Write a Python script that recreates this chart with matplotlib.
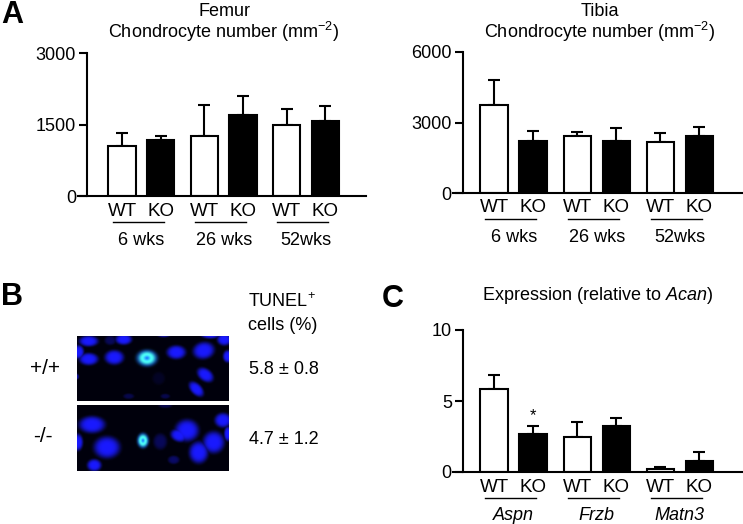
import numpy as np
import matplotlib
matplotlib.use("Agg")
import matplotlib.pyplot as plt
from matplotlib.transforms import blended_transform_factory, offset_copy

plt.rcParams['font.family'] = ['Liberation Sans', 'DejaVu Sans']
plt.rcParams['mathtext.fontset'] = 'custom'
plt.rcParams['mathtext.rm'] = 'Liberation Sans'
plt.rcParams['mathtext.it'] = 'Liberation Sans:italic'

# ---- data ----
genotypes = ['WT', 'KO']
ages = ['6 wks', '26 wks', '52wks']
genes = ['Aspn', 'Frzb', 'Matn3']

femur_wt = [1050, 1260, 1500]
femur_wt_err = [280, 640, 335]
femur_ko = [1170, 1690, 1580]
femur_ko_err = [95, 415, 300]

tibia_wt = [3740, 2410, 2180]
tibia_wt_err = [1070, 200, 355]
tibia_ko = [2230, 2230, 2440]
tibia_ko_err = [425, 520, 355]

expr_wt = [5.88, 2.45, 0.19]
expr_wt_err = [0.97, 1.08, 0.16]
expr_ko = [2.70, 3.22, 0.75]
expr_ko_err = [0.57, 0.57, 0.64]

tunel_rows = ['+/+', '-/-']
tunel_values = ['5.8 \u00b1 0.8', '4.7 \u00b1 1.2']

# nuclei in the micrographs: x, y, half-width, half-height (image px), angle, brightness, tunel+
nuclei_wt = [
    (11.7, 6.0, 6.7, 3.7, 0, 1.0, False), (1.7, 16.7, 3.7, 4.7, 0, 1.0, False),
    (11.7, 23.7, 6.7, 4.2, 0, 1.0, False), (33.3, 5.3, 4.2, 3.3, 0, 0.35, False),
    (46.7, 4.3, 5.8, 3.7, 0, 1.0, False), (37.3, 22.0, 6.7, 5.0, 0, 1.0, False),
    (70.0, 22.7, 7.5, 5.8, 0, 1.0, True), (86.7, -1.3, 5.0, 2.5, 0, 0.8, False),
    (99.3, 17.0, 6.7, 4.7, 0, 1.0, False), (126.7, 15.3, 7.5, 5.8, -10, 1.0, False),
    (133.3, -0.7, 6.7, 3.0, 0, 1.0, False), (147.3, 4.3, 5.0, 4.2, 0, 1.0, False),
    (150.7, 21.0, 3.3, 4.2, 0, 1.0, False), (128.3, 39.3, 6.3, 4.2, 35, 1.0, False),
    (119.3, 53.3, 6.3, 3.7, 45, 1.0, False), (0.0, 41.0, 1.5, 2.0, 0, 0.6, False),
    (81.7, 42.7, 5.0, 5.0, 0, 0.15, False), (51.7, 60.3, 4.0, 2.0, 0, 0.3, False),
    (88.3, 60.3, 3.5, 1.8, 0, 0.3, False),
]
nuclei_ko = [
    (15.0, 19.3, 9.2, 5.8, 0, 1.0, False), (0.7, 36.7, 3.7, 5.8, 0, 1.0, False),
    (30.0, 41.7, 9.2, 7.5, 0, 1.0, False), (17.3, 59.3, 5.0, 4.2, 0, 1.0, False),
    (66.0, 35.0, 4.2, 5.3, 0, 1.0, True), (83.3, 36.0, 5.0, 5.8, 0, 0.35, False),
    (88.3, 0.7, 5.0, 1.7, 0, 0.3, False), (110.0, 25.0, 8.3, 7.5, 0, 1.0, False),
    (101.7, 30.0, 5.8, 4.2, 20, 1.0, False), (136.7, 36.7, 7.5, 7.5, 0, 1.0, False),
    (121.7, 46.7, 6.7, 7.5, 0, 1.0, False), (146.0, 15.0, 5.8, 5.0, 0, 1.0, False),
    (96.7, 54.0, 4.2, 3.0, 0, 0.4, False), (150.7, 28.3, 2.5, 5.0, 0, 1.0, False),
]

W, H = 743, 524
fig = plt.figure(figsize=(W / 100, H / 100), dpi=100)


def px_axes(left, top, right, bottom):
    return fig.add_axes([left / W, 1 - bottom / H, (right - left) / W, (bottom - top) / H])


def bar_panel(ax, wt, wt_err, ko, ko_err, ymax, yticks, groups, xlim, spine_x, italic=False):
    g = np.arange(len(groups))
    xw, xk = g - 0.235, g + 0.235
    zeros = np.zeros(len(groups))
    ax.errorbar(xw, wt, yerr=[zeros, wt_err], fmt='none', ecolor='black',
                elinewidth=1.5, capsize=4, capthick=1.5, zorder=1)
    ax.errorbar(xk, ko, yerr=[zeros, ko_err], fmt='none', ecolor='black',
                elinewidth=1.5, capsize=4, capthick=1.5, zorder=1)
    ax.bar(xw, wt, width=0.33, color='white', edgecolor='black', linewidth=1.5, zorder=2)
    ax.bar(xk, ko, width=0.33, color='black', edgecolor='black', linewidth=1.5, zorder=2)
    ax.set_xlim(*xlim)
    ax.set_ylim(0, ymax)
    ax.set_yticks(yticks)
    ax.set_xticks([])
    for s in ['top', 'right']:
        ax.spines[s].set_visible(False)
    ax.spines['left'].set_position(('data', spine_x))
    ax.spines['left'].set_linewidth(1.5)
    ax.spines['bottom'].set_linewidth(1.5)
    ax.tick_params(axis='y', direction='out', length=6, width=1.5, labelsize=13, pad=2)

    base = blended_transform_factory(ax.transData, ax.transAxes)
    t_lab = offset_copy(base, fig=fig, y=-15, units='dots')
    t_line = offset_copy(base, fig=fig, y=-26, units='dots')
    t_grp = offset_copy(base, fig=fig, y=-44, units='dots')
    for i, name in enumerate(groups):
        ax.text(xw[i], 0, genotypes[0], transform=t_lab, ha='center', va='center', fontsize=13.5)
        ax.text(xk[i], 0, genotypes[1], transform=t_lab, ha='center', va='center', fontsize=13.5)
        ax.plot([g[i] - 0.35, g[i] + 0.27], [0, 0], color='black', lw=1.0,
                transform=t_line, clip_on=False)
        ax.text(g[i], 0, name, transform=t_grp, ha='center', va='center', fontsize=13,
                fontstyle='italic' if italic else 'normal')
    return xw, xk


# ---- panel A ----
ax_f = px_axes(78, 53, 366, 196)
bar_panel(ax_f, femur_wt, femur_wt_err, femur_ko, femur_ko_err, 3000, [0, 1500, 3000],
          ages, (-0.77, 2.73), -0.66)
fig.text(224 / W, 1 - 11 / H, 'Femur', ha='center', va='center', fontsize=13)
fig.text(224 / W, 1 - 32 / H, 'Chondrocyte number (mm$^{-2}$)', ha='center', va='center', fontsize=13)

ax_t = px_axes(453, 52, 743, 193)
bar_panel(ax_t, tibia_wt, tibia_wt_err, tibia_ko, tibia_ko_err, 6000, [0, 3000, 6000],
          ages, (-0.73, 2.76), -0.61)
fig.text(600 / W, 1 - 11 / H, 'Tibia', ha='center', va='center', fontsize=13)
fig.text(600 / W, 1 - 32 / H, 'Chondrocyte number (mm$^{-2}$)', ha='center', va='center', fontsize=13)

# ---- panel C ----
ax_c = px_axes(453, 330, 743, 472)
xw, xk = bar_panel(ax_c, expr_wt, expr_wt_err, expr_ko, expr_ko_err, 10, [0, 5, 10],
                   genes, (-0.73, 2.76), -0.61, italic=True)
ax_c.text(xk[0], expr_ko[0] + expr_ko_err[0] + 0.15, '*', ha='center', va='bottom', fontsize=12)
fig.text(598 / W, 1 - 295 / H, 'Expression (relative to $\\mathit{Acan}$)',
         ha='center', va='center', fontsize=13)


# ---- panel B ----
def micrograph(nuclei, w=152, h=65, grow=1.4):
    yy, xx = np.mgrid[0:h * 2, 0:w * 2] / 2.0 + 0.25
    img = np.zeros((h * 2, w * 2, 3))
    img[..., 2] = 0.05
    for cx, cy, rx, ry, ang, b, pos in nuclei:
        rx, ry = rx * grow, ry * grow
        a = np.deg2rad(ang)
        dx, dy = xx - cx, yy - cy
        u = dx * np.cos(a) + dy * np.sin(a)
        v = -dx * np.sin(a) + dy * np.cos(a)
        r2 = (u / rx) ** 2 + (v / ry) ** 2
        inten = b * np.exp(-r2 ** 2.2)
        if pos:
            core = np.exp(-((np.sqrt(r2) - 0.45) / 0.35) ** 2)
            layer = inten[..., None] * np.array([0.05, 0.3, 1.0]) \
                + b * core[..., None] * np.array([0.25, 0.7, 0.0])
        else:
            layer = inten[..., None] * np.array([0.1, 0.1, 1.0])
        img = np.maximum(img, layer)
    return np.clip(img, 0, 1)


for (top, bottom), nuc in zip([(336, 401), (405, 471)], [nuclei_wt, nuclei_ko]):
    ax_i = px_axes(77, top, 229, bottom)
    ax_i.imshow(micrograph(nuc), aspect='auto', interpolation='bilinear')
    ax_i.axis('off')

fig.text(45 / W, 1 - 368 / H, tunel_rows[0], ha='center', va='center', fontsize=15)
fig.text(43 / W, 1 - 437 / H, tunel_rows[1], ha='center', va='center', fontsize=15)
fig.text(248 / W, 1 - 302 / H, 'TUNEL$^{+}$', ha='left', va='center', fontsize=13)
fig.text(248 / W, 1 - 325 / H, 'cells (%)', ha='left', va='center', fontsize=13)
fig.text(249 / W, 1 - 369 / H, tunel_values[0], ha='left', va='center', fontsize=13)
fig.text(249 / W, 1 - 439 / H, tunel_values[1], ha='left', va='center', fontsize=13)

# panel letters
for lbl, x, y in [('A', 1, 0), ('B', 1, 282), ('C', 382, 284)]:
    fig.text(x / W, 1 - y / H, lbl, ha='left', va='top', fontsize=22, fontweight='bold')

fig.savefig('out.png', dpi=100)
